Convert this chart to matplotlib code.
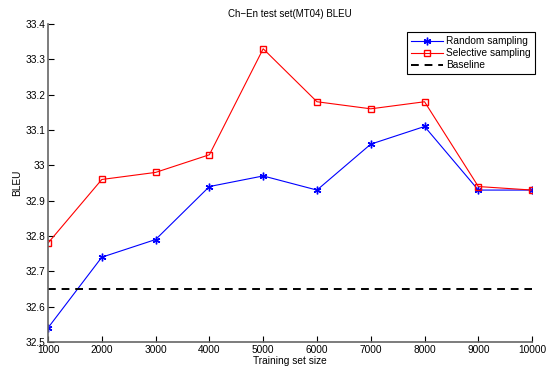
import matplotlib
matplotlib.use('Agg')
import matplotlib.pyplot as plt

plt.rcParams['font.family'] = ['Liberation Sans', 'DejaVu Sans']
plt.rcParams['font.size'] = 7

sizes = [1000, 2000, 3000, 4000, 5000, 6000, 7000, 8000, 9000, 10000]
random_bleu = [32.54, 32.74, 32.79, 32.94, 32.97, 32.93, 33.06, 33.11, 32.93, 32.93]
selective_bleu = [32.78, 32.96, 32.98, 33.03, 33.33, 33.18, 33.16, 33.18, 32.94, 32.93]
baseline = 32.65

fig = plt.figure(figsize=(5.52, 3.68), dpi=100)
ax = fig.add_axes([0.087, 0.0707, 0.877, 0.864])

# matlab-style asterisk marker
ax.plot(sizes, random_bleu, color='blue', marker=(6, 2, 0), markersize=5.5,
        markeredgewidth=1.0, linewidth=0.8, label='Random sampling')
ax.plot(sizes, selective_bleu, color='red', marker='s', markersize=4.5,
        markerfacecolor='none', linewidth=0.8, label='Selective sampling')
ax.plot([sizes[0], sizes[-1]], [baseline, baseline], color='black', linestyle='--',
        dashes=(4, 3), linewidth=1.4, label='Baseline')

ax.set_xlim(1000, 10000)
ax.set_ylim(32.5, 33.4)
ax.set_xticks(sizes)
ax.set_yticks([32.5, 32.6, 32.7, 32.8, 32.9, 33.0, 33.1, 33.2, 33.3, 33.4])
ax.set_yticklabels(['32.5', '32.6', '32.7', '32.8', '32.9', '33', '33.1', '33.2', '33.3', '33.4'])
ax.tick_params(direction='in', length=4, width=0.8, labelsize=7.3, pad=2)
ax.spines['top'].set_visible(False)
ax.spines['right'].set_visible(False)
ax.spines['left'].set_color('#666666')
ax.spines['bottom'].set_color('#666666')
ax.spines['left'].set_linewidth(1.2)
ax.spines['bottom'].set_linewidth(1.2)

ax.set_xlabel('Training set size', fontsize=7.3, labelpad=1)
ax.set_ylabel('BLEU', fontsize=7.3, labelpad=2)
ax.set_title('Ch\u2212En test set(MT04) BLEU', fontsize=7, pad=5)

leg = ax.legend(loc='upper right', bbox_to_anchor=(1.016, 0.99), fontsize=7.3,
                fancybox=False, edgecolor='black', framealpha=1, handlelength=3.2,
                borderpad=0.4, labelspacing=0.2, handletextpad=0.3)
leg.get_frame().set_linewidth(0.8)

fig.savefig('out.png', dpi=100)
